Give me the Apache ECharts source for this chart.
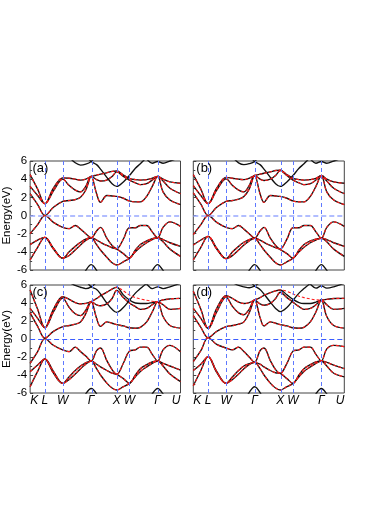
<!DOCTYPE html>
<html><head><meta charset="utf-8">
<script src="https://cdn.jsdelivr.net/npm/echarts@6/dist/echarts.min.js"></script>
<style>html,body{margin:0;padding:0;background:#fff}#c{width:374px;height:528px}</style>
</head><body><div id="c"></div><script>
const _ = null;
const kLabels = ['K','L','W','Γ','X','W','Γ','U'];
const kPos = [0,0.098,0.217,0.406,0.576,0.66,0.848,1];
const kGrid = [0,0.05,0.098,0.155,0.217,0.26,0.30,0.335,0.37,0.406,0.442,0.468,0.51,0.545,0.576,0.62,0.66,0.70,0.733,0.775,0.812,0.848,0.884,0.93,1];
const yTicks = [-6,-4,-2,0,2,4,6];
const panelNames = ['(a)','(b)','(c)','(d)'];
const yAxisTitle = 'Energy(eV)';

// panel (a)
const a_C1 = [2.4,1.2,0.0,0.9,1.55,1.65,1.75,2.0,2.8,4.3,2.4,1.45,2.2,2.15,2.1,1.9,1.6,1.5,1.5,2.1,3.2,4.3,2.6,1.7,1.2];
const a_C2 = [3.2,2.2,1.3,2.7,4.0,3.3,2.8,2.6,3.2,4.3,3.95,3.8,3.9,4.3,4.8,4.3,3.9,3.6,3.4,3.5,3.9,4.3,3.8,3.0,2.4];
const a_C3 = [4.5,2.9,1.3,3.0,4.15,4.1,4.0,3.9,4.0,4.3,4.45,4.55,4.7,4.85,4.9,4.45,4.1,3.95,3.9,3.95,4.1,4.3,4.0,3.7,3.55];
const a_V1 = [-2.0,-1.0,0.0,-0.75,-1.3,-1.45,-1.1,-1.5,-2.0,-2.45,-1.7,-1.3,-2.5,-3.3,-3.65,-2.6,-1.35,-1.35,-1.1,-1.1,-1.8,-2.45,-1.3,-0.7,-1.2];
const a_V2 = [-3.2,-2.7,-2.4,-3.6,-4.7,-4.0,-3.4,-2.95,-2.6,-2.45,-2.7,-2.95,-3.3,-3.55,-3.7,-4.2,-4.7,-3.8,-3.2,-2.8,-2.55,-2.45,-2.65,-3.0,-3.4];
const a_V3 = [-4.9,-3.5,-2.4,-3.7,-4.7,-4.4,-3.8,-3.25,-2.75,-2.45,-3.2,-3.8,-4.6,-5.2,-5.45,-5.1,-4.7,-4.0,-3.5,-3.0,-2.65,-2.45,-2.9,-3.7,-4.5];
const a_T0 = [_,_,_,_,7.0,6.4,5.8,5.55,5.65,5.95,6.6,_,_,_,_,_,_,_,_,_,_,_,_,_,_];
const a_T1 = [_,_,_,_,_,_,_,_,6.6,5.95,5.6,5.1,4.2,3.5,3.2,3.7,4.4,5.2,5.7,6.4,7.0,_,_,_,_];
const a_T2 = [_,_,_,_,_,_,_,_,_,_,_,_,_,_,_,_,_,_,6.8,6.2,5.75,5.95,5.75,6.0,6.4];
const a_B1 = [_,_,_,_,_,_,_,-7.2,-6.05,-5.4,-6.05,-7.2,_,_,_,_,_,_,_,_,_,_,_,_,_];
const a_B2 = [_,_,_,_,_,_,_,_,_,_,_,_,_,_,_,_,_,_,_,-7.2,-6.05,-5.4,-6.05,-7.2,_];

// panel (b)
const b_C1 = [2.5,1.25,0.0,0.9,1.55,1.65,1.8,2.1,2.9,4.4,2.4,1.45,2.2,2.15,2.1,1.9,1.6,1.5,1.5,2.1,3.2,4.4,2.6,1.7,1.2];
const b_C2 = [3.3,2.2,1.3,2.8,4.05,3.3,2.8,2.6,3.3,4.4,4.0,3.85,4.0,4.4,4.95,4.4,3.9,3.6,3.4,3.5,3.9,4.4,3.8,3.0,2.4];
const b_C3 = [4.5,2.9,1.3,3.0,4.2,4.1,4.0,3.95,4.1,4.4,4.55,4.65,4.8,4.95,5.0,4.5,4.1,3.95,3.9,3.95,4.1,4.4,4.0,3.7,3.55];
const b_V1 = [-2.1,-1.0,0.0,-0.75,-1.3,-1.45,-1.1,-1.5,-2.0,-2.5,-1.7,-1.3,-2.5,-3.3,-3.7,-2.6,-1.35,-1.35,-1.1,-1.1,-1.8,-2.5,-1.3,-0.7,-1.2];
const b_V2 = [-3.25,-2.7,-2.3,-3.6,-4.75,-4.0,-3.4,-2.95,-2.65,-2.5,-2.7,-2.95,-3.3,-3.55,-3.75,-4.2,-4.7,-3.8,-3.2,-2.8,-2.6,-2.5,-2.65,-3.0,-3.4];
const b_V3 = [-4.9,-3.5,-2.3,-3.7,-4.75,-4.4,-3.8,-3.25,-2.8,-2.5,-3.2,-3.8,-4.6,-5.2,-5.45,-5.1,-4.7,-4.0,-3.5,-3.0,-2.7,-2.5,-2.9,-3.7,-4.5];
const b_T0 = [_,_,_,_,7.0,6.4,5.8,5.6,5.7,5.95,6.6,_,_,_,_,_,_,_,_,_,_,_,_,_,_];
const b_T1 = [_,_,_,_,_,_,_,_,6.6,5.95,5.6,5.1,4.2,3.5,3.2,3.7,4.4,5.2,5.7,6.4,7.0,_,_,_,_];
const b_T2 = [_,_,_,_,_,_,_,_,_,_,_,_,_,_,_,_,_,_,6.8,6.2,5.75,5.95,5.75,6.0,6.4];
const b_B1 = [_,_,_,_,_,_,_,-7.2,-6.05,-5.4,-6.05,-7.2,_,_,_,_,_,_,_,_,_,_,_,_,_];
const b_B2 = [_,_,_,_,_,_,_,_,_,_,_,_,_,_,_,_,_,_,_,-7.2,-6.05,-5.4,-6.05,-7.2,_];

// panel (c)
const c_C1 = [2.9,1.4,0.1,0.85,1.37,1.5,1.65,1.9,2.8,4.15,2.3,1.4,1.9,1.75,1.6,1.45,1.25,1.2,1.3,1.9,3.0,4.15,2.5,1.5,1.2];
const c_C2 = [3.4,2.3,1.26,3.0,4.55,3.5,2.8,2.6,3.2,4.15,3.8,3.7,3.9,4.5,5.4,4.6,4.0,3.6,3.3,3.4,3.8,4.15,3.8,3.3,3.4];
const c_C3 = [5.44,3.3,1.26,3.3,4.7,4.4,4.05,3.9,3.95,4.15,4.5,4.8,5.2,5.55,5.75,4.9,4.33,4.0,3.95,3.95,4.05,4.15,4.35,4.45,4.52];
const c_C3red = [5.44,3.3,1.26,3.3,4.7,4.4,4.05,3.9,3.95,4.15,4.5,4.8,5.2,5.55,5.75,5.35,4.9,4.6,4.45,4.3,4.2,4.15,4.35,4.45,4.52];
const c_V1 = [-2.7,-1.4,0.05,-0.7,-1.22,-1.4,-0.9,-1.4,-1.9,-2.44,-1.3,-1.0,-2.4,-3.4,-3.93,-2.7,-1.35,-1.2,-0.9,-0.9,-1.7,-2.44,-1.2,-0.7,-1.41];
const c_V2 = [-3.63,-2.9,-2.22,-3.6,-4.93,-4.2,-3.5,-3.0,-2.65,-2.44,-2.8,-3.1,-3.5,-3.8,-3.93,-4.4,-4.93,-4.0,-3.3,-2.85,-2.55,-2.44,-2.7,-3.0,-3.45];
const c_V3 = [-5.3,-3.6,-2.22,-3.8,-4.93,-4.5,-3.9,-3.3,-2.8,-2.44,-3.3,-4.0,-4.9,-5.45,-5.67,-5.3,-4.93,-4.2,-3.6,-3.1,-2.7,-2.44,-3.0,-3.9,-4.74];
const c_T0 = [_,_,_,_,7.0,6.3,5.95,5.75,5.6,5.8,6.3,_,_,_,_,_,_,_,_,_,_,_,_,_,_];
const c_T1 = [_,_,_,_,_,_,_,_,6.5,5.8,5.5,5.0,4.0,3.3,2.96,3.5,4.3,5.1,5.6,6.2,6.9,_,_,_,_];
const c_T2 = [_,_,_,_,_,_,_,_,_,_,_,_,_,_,_,_,_,_,6.8,6.1,5.6,5.8,5.6,5.8,6.2];
const c_B1 = [_,_,_,_,_,_,_,-7.2,-6.1,-5.5,-6.1,-7.2,_,_,_,_,_,_,_,_,_,_,_,_,_];
const c_B2 = [_,_,_,_,_,_,_,_,_,_,_,_,_,_,_,_,_,_,_,-7.2,-6.1,-5.5,-6.1,-7.2,_];

// panel (d)
const d_C1 = [2.6,1.3,0.15,0.85,1.37,1.5,1.65,1.9,2.9,4.33,2.4,1.45,1.9,1.75,1.6,1.45,1.25,1.2,1.3,1.9,3.0,4.33,2.5,1.5,1.2];
const d_C2 = [3.4,2.3,1.18,3.0,4.65,3.6,2.9,2.7,3.3,4.33,3.9,3.75,3.95,4.5,5.2,4.6,4.1,3.6,3.3,3.4,3.8,4.33,3.8,3.3,3.4];
const d_C3 = [5.3,3.3,1.18,3.4,4.81,4.5,4.1,3.95,4.05,4.33,4.6,4.85,5.15,5.35,5.44,4.9,4.4,4.05,3.95,3.95,4.1,4.33,4.4,4.5,4.52];
const d_C3red = [5.3,3.3,1.18,3.4,4.81,4.5,4.1,3.95,4.05,4.33,4.6,4.85,5.15,5.35,5.44,5.3,5.0,4.75,4.6,4.45,4.35,4.33,4.4,4.5,4.52];
const d_V1 = [-2.5,-1.3,0.15,-0.6,-1.0,-1.2,-0.9,-1.4,-2.0,-2.59,-1.3,-1.0,-2.4,-3.4,-3.82,-2.7,-1.35,-1.2,-0.9,-0.9,-1.7,-2.44,-1.1,-0.7,-0.85];
const d_V2 = [-3.5,-2.8,-1.96,-3.6,-4.93,-4.2,-3.5,-3.0,-2.75,-2.59,-2.8,-3.1,-3.5,-3.75,-3.82,-4.4,-4.93,-4.0,-3.3,-2.85,-2.55,-2.44,-2.6,-2.9,-3.3];
const d_V3 = [-5.2,-3.5,-1.96,-3.7,-4.93,-4.5,-3.9,-3.3,-2.85,-2.59,-3.3,-4.0,-4.9,-5.45,-5.67,-5.3,-4.93,-4.2,-3.6,-3.1,-2.7,-2.44,-3.0,-3.8,-4.2];
const d_T0 = [_,_,_,_,7.0,6.3,5.95,5.8,5.7,5.9,6.3,_,_,_,_,_,_,_,_,_,_,_,_,_,_];
const d_T1 = [_,_,_,_,_,_,_,_,6.5,5.9,5.5,5.0,4.1,3.4,3.04,3.5,4.3,5.1,5.6,6.2,6.9,_,_,_,_];
const d_T2 = [_,_,_,_,_,_,_,_,_,_,_,_,_,_,_,_,_,_,6.8,6.1,5.65,5.9,5.65,5.8,6.2];
const d_B1 = [_,_,_,_,_,_,_,-7.0,-5.95,-5.3,-5.95,-7.0,_,_,_,_,_,_,_,_,_,_,_,_,_];
const d_B2 = [_,_,_,_,_,_,_,_,_,_,_,_,_,_,_,_,_,_,_,-7.2,-6.1,-5.5,-6.1,-7.2,_];

const panels = [
  {black:[a_T0,a_T1,a_T2,a_C1,a_C2,a_C3,a_V1,a_V2,a_V3,a_B1,a_B2], red:[a_C1,a_C2,a_C3,a_V1,a_V2,a_V3]},
  {black:[b_T0,b_T1,b_T2,b_C1,b_C2,b_C3,b_V1,b_V2,b_V3,b_B1,b_B2], red:[b_C1,b_C2,b_C3,b_V1,b_V2,b_V3]},
  {black:[c_T0,c_T1,c_T2,c_C1,c_C2,c_C3,c_V1,c_V2,c_V3,c_B1,c_B2], red:[c_C1,c_C2,c_C3red,c_V1,c_V2,c_V3]},
  {black:[d_T0,d_T1,d_T2,d_C1,d_C2,d_C3,d_V1,d_V2,d_V3,d_B1,d_B2], red:[d_C1,d_C2,d_C3red,d_V1,d_V2,d_V3]}
];

const boxes = [
  {left:29.5, top:161, width:151, height:109},
  {left:193.3, top:161, width:151, height:109},
  {left:29.5, top:285, width:151, height:108},
  {left:193.3, top:285, width:151, height:108}
];
const FONT = 'Liberation Sans, Arial, Helvetica, sans-serif';

function toPts(arr){
  return kGrid.map((x,i)=>[x, arr[i]]).filter(p=>p[1]!==null);
}

const option = {animation:false, backgroundColor:'#fff', title:[], grid:[], xAxis:[], yAxis:[], series:[]};
panels.forEach((p,i)=>{
  const b = boxes[i];
  const isBottom = i>=2, isLeft = i%2===0;
  option.grid.push({left:b.left, top:b.top, width:b.width, height:b.height, show:true, borderColor:'#444', borderWidth:1, backgroundColor:'transparent'});
  option.title.push({text:panelNames[i], left:b.left+3, top:b.top+1, padding:0,
    textStyle:{fontSize:13, fontWeight:'normal', color:'#000', fontFamily:FONT}});
  option.xAxis.push({type:'value', gridIndex:i, min:0, max:1,
    axisLine:{show:false}, axisTick:{show:false}, splitLine:{show:false},
    axisLabel: isBottom ? {show:true, customValues:kPos, margin:2, fontSize:12, fontStyle:'italic', color:'#000', fontFamily:FONT,
      alignMinLabel:'left', alignMaxLabel:'right',
      formatter:(v)=>{ let k=kPos.indexOf(v); if(k<0){ k=kPos.findIndex(q=>Math.abs(q-v)<1e-6);} return k>=0?kLabels[k]:''; }} : {show:false}
  });
  option.yAxis.push({type:'value', gridIndex:i, min:yTicks[0], max:yTicks[yTicks.length-1], interval:2,
    axisLine:{show:false},
    axisTick:{show:true, inside:true, length:3, lineStyle:{color:'#444'}},
    minorTick:{show:true, splitNumber:2, length:2, lineStyle:{color:'#444'}},
    splitLine:{show:false},
    axisLabel: isLeft ? {show:true, margin:3, fontSize:11.5, color:'#000', fontFamily:FONT} : {show:false},
    name: isLeft ? yAxisTitle : '', nameLocation:'middle', nameGap:14,
    nameTextStyle:{fontSize:11.5, color:'#000', fontFamily:FONT}
  });
  const hColor = isBottom ? '#3a5cff' : '#98a8ff';
  option.series.push({type:'line', xAxisIndex:i, yAxisIndex:i, data:[], z:1, silent:true,
    markLine:{silent:true, symbol:['none','none'], label:{show:false}, animation:false,
      lineStyle:{color:'#5d78ff', width:1, type:[4,3]},
      data: kPos.slice(1,-1).map(v=>({xAxis:v})).concat([{yAxis:0, lineStyle:{color:hColor, width:isBottom?1:1.6, type:[5,3]}}])
    }});
  p.black.forEach(arr=>{
    option.series.push({type:'line', xAxisIndex:i, yAxisIndex:i, data:toPts(arr), smooth:0.35, symbol:'none', z:3,
      lineStyle:{color:'#111', width:1.35}});
  });
  p.red.forEach(arr=>{
    option.series.push({type:'line', xAxisIndex:i, yAxisIndex:i, data:toPts(arr), smooth:0.35, symbol:'none', z:4,
      lineStyle:{color:'#ff1a1a', width:1.1, type:[3,2]}});
  });
});

const chart = echarts.init(document.getElementById('c'), null, {renderer:'canvas'});
chart.setOption(option);
</script></body></html>
